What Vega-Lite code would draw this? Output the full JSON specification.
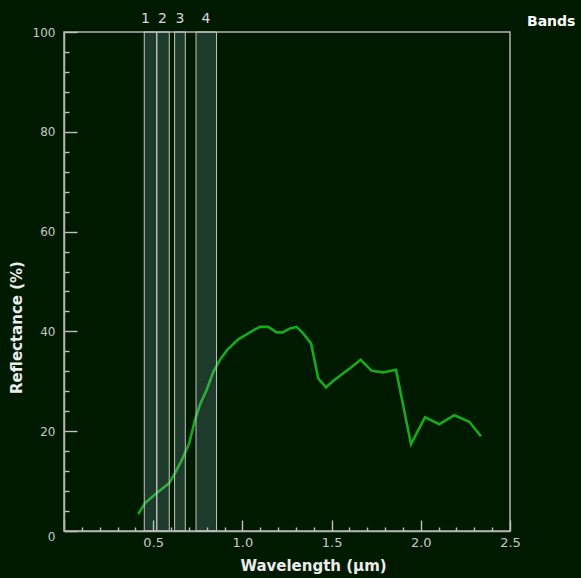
{
  "$schema": "https://vega.github.io/schema/vega-lite/v6.json",
  "autosize": {"type": "none"},
  "padding": {"left": 64, "top": 32, "right": 71, "bottom": 47},
  "width": 446,
  "height": 499,
  "background": "#001a00",
  "config": {"view": {"stroke": "#b4b4b4", "strokeWidth": 1.5}, "font": "DejaVu Sans"},
  "datasets": {
    "spectrum": [
      {"wl": 0.416, "refl": 3.4}, {"wl": 0.454, "refl": 5.6}, {"wl": 0.52, "refl": 7.6},
      {"wl": 0.59, "refl": 9.6}, {"wl": 0.622, "refl": 11.6}, {"wl": 0.66, "refl": 14.2},
      {"wl": 0.702, "refl": 17.6}, {"wl": 0.734, "refl": 22.2}, {"wl": 0.762, "refl": 25.3},
      {"wl": 0.8, "refl": 28.3}, {"wl": 0.837, "refl": 31.9}, {"wl": 0.874, "refl": 34.3},
      {"wl": 0.915, "refl": 36.3}, {"wl": 0.977, "refl": 38.4}, {"wl": 1.033, "refl": 39.6},
      {"wl": 1.071, "refl": 40.4}, {"wl": 1.099, "refl": 40.9}, {"wl": 1.145, "refl": 40.9},
      {"wl": 1.192, "refl": 39.8}, {"wl": 1.226, "refl": 39.8}, {"wl": 1.267, "refl": 40.6},
      {"wl": 1.304, "refl": 40.9}, {"wl": 1.341, "refl": 39.6}, {"wl": 1.385, "refl": 37.6},
      {"wl": 1.425, "refl": 30.6}, {"wl": 1.469, "refl": 28.8}, {"wl": 1.51, "refl": 30.1},
      {"wl": 1.603, "refl": 32.6}, {"wl": 1.663, "refl": 34.3}, {"wl": 1.725, "refl": 32.1},
      {"wl": 1.79, "refl": 31.8}, {"wl": 1.861, "refl": 32.3}, {"wl": 1.945, "refl": 17.4},
      {"wl": 2.024, "refl": 22.8}, {"wl": 2.104, "refl": 21.4}, {"wl": 2.188, "refl": 23.2},
      {"wl": 2.272, "refl": 21.9}, {"wl": 2.337, "refl": 19.0}
    ],
    "bands": [
      {"band": "1", "start": 0.45, "end": 0.52, "labelX": 0.457},
      {"band": "2", "start": 0.52, "end": 0.59, "labelX": 0.552},
      {"band": "3", "start": 0.62, "end": 0.68, "labelX": 0.65},
      {"band": "4", "start": 0.74, "end": 0.855, "labelX": 0.796}
    ]
  },
  "layer": [
    {
      "data": {"name": "spectrum"},
      "mark": {"type": "line", "color": "#1aa71a", "strokeWidth": 2.6},
      "encoding": {
        "x": {
          "field": "wl", "type": "quantitative",
          "scale": {"domain": [0, 2.5], "nice": false, "zero": false},
          "axis": {
            "values": [0, 0.1, 0.2, 0.3, 0.4, 0.5, 0.6, 0.7, 0.8, 0.9, 1.0, 1.1, 1.2, 1.3, 1.4, 1.5, 1.6, 1.7, 1.8, 1.9, 2.0, 2.1, 2.2, 2.3, 2.4, 2.5],
            "tickCount": 200,
            "labelExpr": "datum.value > 0 && abs(datum.value*2 - round(datum.value*2)) < 0.000001 ? format(datum.value, '.1f') : ''",
            "tickSize": {"condition": {"test": "abs(datum.value*2 - round(datum.value*2)) < 0.000001", "value": -11}, "value": -4},
            "tickColor": "#c0c0c0", "tickWidth": 1.4,
            "domainColor": "#b4b4b4", "domainWidth": 1.5,
            "labelColor": "#c8c8c8", "labelFontSize": 13, "labelPadding": 16,
            "labelFlush": false, "labelOverlap": false, "grid": false,
            "title": "Wavelength (µm)", "titleColor": "#ececec", "titleFontSize": 15, "titleFontWeight": "bold",
            "titleX": 249, "titleY": 34, "titleBaseline": "middle", "titleAlign": "center"
          }
        },
        "y": {
          "field": "refl", "type": "quantitative",
          "scale": {"domain": [0, 100], "nice": false},
          "axis": {
            "values": [0, 4, 8, 12, 16, 20, 24, 28, 32, 36, 40, 44, 48, 52, 56, 60, 64, 68, 72, 76, 80, 84, 88, 92, 96, 100],
            "tickCount": 200,
            "labelExpr": "datum.value % 20 == 0 ? format(datum.value, 'd') : ''",
            "labelBaseline": {"condition": {"test": "datum.value == 0", "value": "top"}, "value": "middle"},
            "tickSize": {"condition": {"test": "datum.value % 20 == 0", "value": -13}, "value": -5},
            "tickColor": "#c0c0c0", "tickWidth": 1.4,
            "domainColor": "#b4b4b4", "domainWidth": 1.5,
            "labelColor": "#c8c8c8", "labelFontSize": 12, "labelPadding": 22,
            "labelFlush": false, "labelOverlap": false, "grid": false,
            "title": "Reflectance (%)", "titleColor": "#ececec", "titleFontSize": 15, "titleFontWeight": "bold",
            "titleX": -48, "titleY": 295, "titleBaseline": "middle", "titleAlign": "center", "titleAngle": -90
          }
        }
      }
    },
    {
      "data": {"name": "bands"},
      "mark": {"type": "rect", "fill": "#96bcd2", "fillOpacity": 0.2, "stroke": "#c4c4c4", "strokeWidth": 1},
      "encoding": {
        "x": {"field": "start", "type": "quantitative"},
        "x2": {"field": "end"},
        "y": {"datum": 0},
        "y2": {"datum": 100}
      }
    },
    {
      "data": {"name": "bands"},
      "mark": {"type": "text", "color": "#d8d8d8", "fontSize": 14, "baseline": "middle", "dy": -13},
      "encoding": {
        "x": {"field": "labelX", "type": "quantitative"},
        "y": {"datum": 100},
        "text": {"field": "band"}
      }
    },
    {
      "data": {"values": [{"label": "Bands"}]},
      "mark": {"type": "text", "color": "#ffffff", "fontSize": 14, "fontWeight": "bold", "align": "left", "baseline": "middle", "dx": 17, "dy": -10},
      "encoding": {
        "x": {"datum": 2.5},
        "y": {"datum": 100},
        "text": {"field": "label"}
      }
    }
  ]
}
